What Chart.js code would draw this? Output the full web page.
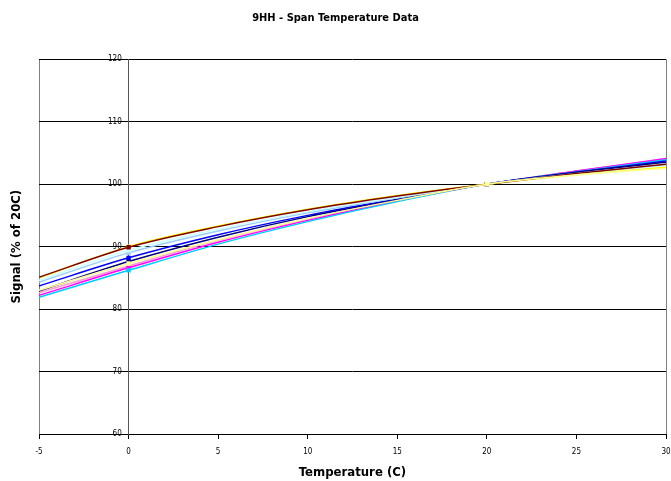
<!DOCTYPE html>
<html>
<head>
<meta charset="utf-8">
<script src="https://cdn.jsdelivr.net/npm/chart.js@4"></script>
<style>
html,body{margin:0;padding:0;background:#fff}
#wrap{width:671px;height:481px}
</style>
</head>
<body>
<div id="wrap"><canvas id="spanChart"></canvas></div>
<script>
const temps = [-5, 0, 5, 10, 15, 20, 25, 30]

// signal (% of 20C) for each sensor
const s1 = [85.1, 89.9, 93.2, 95.9, 98.1, 100, 101.7, 103.2]
const s2 = [85.0, 90.0, 93.3, 96.0, 98.2, 100, 101.5, 102.7]
const s3 = [84.6, 89.4, 92.8, 95.6, 97.9, 100, 101.6, 103.0]
const s4 = [84.3, 89.0, 92.5, 95.4, 97.8, 100, 101.7, 103.1]
const s5 = [83.7, 88.2, 91.9, 95.0, 97.6, 100, 101.9, 103.7]
const s6 = [82.9, 87.6, 91.5, 94.8, 97.5, 100, 101.9, 103.5]
const s7 = [82.6, 86.9, 91.0, 94.4, 97.4, 100, 102.1, 104.0]
const s8 = [82.2, 86.6, 90.7, 94.2, 97.3, 100, 102.1, 104.1]
const s9 = [81.9, 86.2, 90.4, 94.0, 97.2, 100, 102.0, 103.9]
const s10 = [83.0, 87.3, 91.1, 94.5, 97.4, 100, 101.5, 102.5]

const seriesList = [s10, s1, s2, s3, s4, s6, s5, s9, s8, s7]
const colours = ["#FFFF99", "#800000", "#FFFF00", "#CCFFFF", "#99CCFF", "#000080", "#0000FF", "#00CCFF", "#FF00FF", "#FF99CC"]

const font = "'DejaVu Sans',sans-serif"

const datasets = seriesList.map((s, i) => ({
  data: s.map((v, j) => ({x: temps[j], y: v})),
  borderColor: colours[i],
  backgroundColor: colours[i],
  borderWidth: 1.5,
  cubicInterpolationMode: "monotone",
  pointRadius: ctx => (ctx.raw && (ctx.raw.x === 0 || ctx.raw.x === 20)) ? 2 : 0,
  pointStyle: "rect",
  fill: false
}))

new Chart(document.getElementById("spanChart"), {
  type: "line",
  data: {datasets},
  options: {
    responsive: true,
    maintainAspectRatio: false,
    animation: false,
    layout: {padding: 0},
    plugins: {
      legend: {display: false},
      tooltip: {enabled: false},
      title: {
        display: true,
        text: "9HH - Span Temperature Data",
        color: "#000",
        font: {family: font, size: 11, weight: "bold condensed"},
        padding: {top: 12, bottom: 34}
      }
    },
    scales: {
      x: {
        type: "linear",
        min: -5,
        max: 30,
        afterFit: s => { s.paddingLeft = 0; s.paddingRight = 5; s.height = 47 },
        ticks: {stepSize: 5, color: "#000", font: {family: font, size: 8, weight: "condensed"}, padding: 8, maxRotation: 0},
        grid: {
          color: ctx => (ctx.tick && (ctx.tick.value === -5 || ctx.tick.value === 30)) ? "#808080" : "rgba(0,0,0,0)",
          tickColor: "#000",
          tickLength: 5
        },
        border: {display: true, color: "#000", width: 1},
        title: {
          display: true,
          text: "Temperature (C)",
          color: "#000",
          font: {family: font, size: 13, weight: "bold condensed"},
          padding: {top: 6, bottom: 1}
        }
      },
      y: {
        type: "linear",
        position: {x: 0},
        min: 60,
        max: 120,
        ticks: {
          stepSize: 10,
          color: "#000",
          font: {family: font, size: 8, weight: "condensed"},
          // labels are right-aligned on the axis line, pad them off it
          callback: v => v + "\u2007 "
        },
        grid: {color: "#000", tickColor: "#000", tickLength: 3},
        border: {display: true, color: "#555", width: 1}
      },
      yt: {
        type: "linear",
        position: "left",
        min: 60,
        max: 120,
        ticks: {display: false},
        grid: {display: false},
        border: {display: false},
        afterFit: scale => { scale.width = 39 },
        title: {
          display: true,
          text: "Signal (% of 20C)",
          color: "#000",
          font: {family: font, size: 13, weight: "bold condensed"},
          padding: {top: 9, bottom: 0}
        }
      }
    }
  }
})
</script>
</body>
</html>
